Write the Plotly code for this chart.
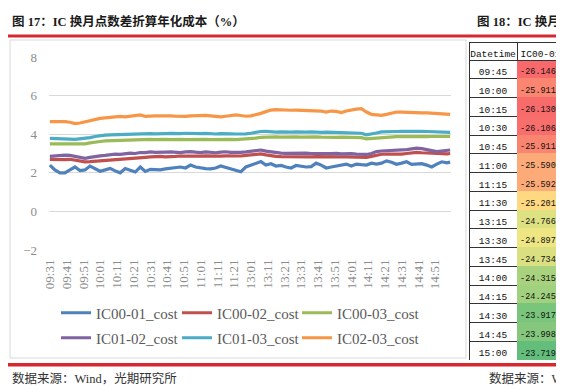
import plotly.graph_objects as go

W, H = 564, 390
OFF = 8                     # page body margin of the html page
FW, FH = W - OFF, H - OFF   # figure size so that it ends at the window edge

# ---- category axis: one category per trading minute ----
minutes = [f"{h:02d}:{m:02d}" for h in range(9, 12) for m in range(60)
           if "09:31" <= f"{h:02d}:{m:02d}" <= "11:30"] + \
          [f"{h:02d}:{m:02d}" for h in range(13, 16) for m in range(60)
           if "13:01" <= f"{h:02d}:{m:02d}" <= "15:00"]
tick_labels = minutes[0:240:10]
sample_times = minutes[0:240:3] + [minutes[-1]]

ic00_01 = [2.40, 2.15, 2.00, 2.00, 2.15, 2.30, 2.12, 2.15, 2.35, 2.20,
           2.08, 2.15, 2.23, 2.10, 2.00, 2.22, 2.15, 2.04, 2.30, 2.07,
           2.18, 2.18, 2.15, 2.20, 2.22, 2.28, 2.30, 2.25, 2.40, 2.30,
           2.25, 2.22, 2.20, 2.25, 2.35, 2.28, 2.18, 2.10, 2.05, 2.30,
           2.38, 2.48, 2.58, 2.40, 2.47, 2.35, 2.38, 2.30, 2.25, 2.38,
           2.35, 2.30, 2.32, 2.50, 2.40, 2.25, 2.30, 2.35, 2.40, 2.45,
           2.35, 2.45, 2.42, 2.40, 2.50, 2.45, 2.50, 2.62, 2.55, 2.44,
           2.50, 2.57, 2.44, 2.45, 2.47, 2.40, 2.30, 2.45, 2.57, 2.52, 2.55]
ic00_02 = [2.69, 2.68, 2.65, 2.68, 2.70, 2.66, 2.60, 2.57, 2.58, 2.60,
           2.65, 2.66, 2.70, 2.70, 2.72, 2.75, 2.76, 2.78, 2.80, 2.80,
           2.82, 2.84, 2.85, 2.83, 2.86, 2.85, 2.87, 2.86, 2.88, 2.87,
           2.86, 2.88, 2.87, 2.85, 2.86, 2.88, 2.87, 2.86, 2.87, 2.90,
           2.93, 2.97, 2.98, 2.93, 2.88, 2.85, 2.84, 2.83, 2.84, 2.83,
           2.84, 2.83, 2.82, 2.84, 2.83, 2.82, 2.83, 2.84, 2.82, 2.83,
           2.82, 2.83, 2.82, 2.80, 2.85, 2.92, 2.96, 2.97, 2.96, 2.98,
           2.97, 3.00, 3.03, 3.06, 3.04, 3.02, 3.00, 2.98, 2.97, 2.98, 3.00]
ic00_03 = [3.50, 3.50, 3.48, 3.47, 3.47, 3.46, 3.47, 3.50, 3.55, 3.60,
           3.62, 3.65, 3.66, 3.68, 3.70, 3.70, 3.71, 3.72, 3.73, 3.72,
           3.73, 3.72, 3.74, 3.73, 3.72, 3.74, 3.73, 3.72, 3.73, 3.75,
           3.74, 3.73, 3.72, 3.73, 3.75, 3.74, 3.73, 3.72, 3.73, 3.74,
           3.77, 3.80, 3.84, 3.86, 3.85, 3.86, 3.85, 3.84, 3.85, 3.86,
           3.85, 3.84, 3.85, 3.86, 3.85, 3.84, 3.83, 3.84, 3.85, 3.84,
           3.85, 3.84, 3.82, 3.76, 3.78, 3.82, 3.85, 3.87, 3.88, 3.87,
           3.88, 3.87, 3.88, 3.89, 3.88, 3.87, 3.88, 3.89, 3.88, 3.87, 3.88]
ic01_02 = [2.85, 2.88, 2.90, 2.92, 2.90, 2.85, 2.78, 2.75, 2.80, 2.85,
           2.88, 2.90, 2.95, 2.97, 2.95, 3.00, 3.02, 3.00, 3.05, 3.05,
           3.08, 3.06, 3.05, 3.07, 3.08, 3.06, 3.05, 3.08, 3.10, 3.07,
           3.05, 3.08, 3.06, 3.04, 3.07, 3.09, 3.06, 3.05, 3.06, 3.08,
           3.12, 3.16, 3.18, 3.12, 3.08, 3.04, 3.02, 3.01, 3.02, 3.00,
           3.01, 3.02, 3.00, 3.01, 3.03, 3.00, 2.99, 3.01, 2.98, 3.00,
           2.99, 2.97, 2.95, 2.95, 3.00, 3.10, 3.13, 3.14, 3.15, 3.18,
           3.20, 3.20, 3.24, 3.28, 3.25, 3.22, 3.15, 3.10, 3.12, 3.16, 3.18]
ic01_03 = [3.78, 3.78, 3.76, 3.75, 3.74, 3.73, 3.75, 3.78, 3.82, 3.88,
           3.93, 3.95, 3.97, 3.98, 4.00, 4.01, 4.02, 4.00, 4.03, 4.02,
           4.03, 4.02, 4.01, 4.03, 4.04, 4.02, 4.03, 4.05, 4.03, 4.02,
           4.03, 4.04, 4.02, 4.01, 4.03, 4.04, 4.02, 4.01, 4.00, 4.02,
           4.05, 4.10, 4.14, 4.15, 4.12, 4.11, 4.12, 4.10, 4.11, 4.12,
           4.10, 4.11, 4.12, 4.10, 4.09, 4.11, 4.10, 4.09, 4.10, 4.11,
           4.10, 4.08, 4.05, 3.97, 4.00, 4.06, 4.12, 4.14, 4.15, 4.14,
           4.15, 4.16, 4.15, 4.14, 4.15, 4.14, 4.13, 4.14, 4.12, 4.10, 4.09]
ic02_03 = [4.65, 4.66, 4.67, 4.65, 4.62, 4.55, 4.58, 4.65, 4.72, 4.78,
           4.82, 4.85, 4.88, 4.93, 4.92, 4.90, 4.92, 4.95, 5.00, 4.92,
           4.95, 4.95, 4.95, 4.96, 4.95, 4.93, 4.92, 4.92, 4.95, 4.97,
           5.00, 4.98, 4.95, 4.92, 4.90, 4.93, 4.97, 5.00, 4.97, 4.93,
           4.95, 5.00, 5.08, 5.17, 5.25, 5.27, 5.25, 5.25, 5.24, 5.25,
           5.24, 5.25, 5.23, 5.22, 5.20, 5.15, 5.20, 5.18, 5.12, 5.20,
           5.27, 5.30, 5.32, 5.15, 5.03, 5.00, 4.98, 5.03, 5.10, 5.15,
           5.14, 5.12, 5.10, 5.12, 5.10, 5.10, 5.08, 5.05, 5.05, 5.05, 5.03]

series_names = ["IC00-01_cost", "IC00-02_cost", "IC00-03_cost",
                "IC01-02_cost", "IC01-03_cost", "IC02-03_cost"]
series_values = [ic00_01, ic00_02, ic00_03, ic01_02, ic01_03, ic02_03]
series_colors = ["#4F81BD", "#C0504D", "#9BBB59", "#8064A2", "#4BACC6", "#F79646"]

# ---- table (figure 18) ----
table_times = ["09:45", "10:00", "10:15", "10:30", "10:45", "11:00", "11:15", "11:30",
               "13:15", "13:30", "13:45", "14:00", "14:15", "14:30", "14:45", "15:00"]
table_ic00_01 = [-26.1467, -25.9111, -26.1308, -26.1067, -25.9116, -25.5903, -25.5926, -25.2017,
                 -24.7665, -24.8971, -24.7343, -24.3154, -24.2453, -23.9172, -23.9987, -23.7193]


def scale_color(v, vals):
    s = sorted(vals)
    lo, hi = s[0], s[-1]
    n = len(s)
    mid = (s[n // 2 - 1] + s[n // 2]) / 2 if n % 2 == 0 else s[n // 2]
    red, yel, grn = (248, 105, 107), (255, 235, 132), (99, 190, 123)
    if v <= mid:
        t = (v - lo) / (mid - lo)
        a, b = red, yel
    else:
        t = (v - mid) / (hi - mid)
        a, b = yel, grn
    c = [round(a[i] + (b[i] - a[i]) * t) for i in range(3)]
    return f"rgb({c[0]},{c[1]},{c[2]})"


cell_colors = [scale_color(v, table_ic00_01) for v in table_ic00_01]

SERIF = "Liberation Serif, Noto Sans CJK SC, serif"
CJK = "Liberation Serif, Noto Sans CJK SC, sans-serif"
MONO = "Liberation Mono, DejaVu Sans Mono, monospace"


def px_x(p):
    return (p - OFF) / FW


def px_y(p):
    return 1 - (p - OFF) / FH


legend_ids = ["legend", "legend2", "legend3", "legend4", "legend5", "legend6"]
legend_cols = [62, 183, 303]     # where each legend line starts (page px)
legend_rows = [313, 338]

fig = go.Figure()
for i, (name, vals, col) in enumerate(zip(series_names, series_values, series_colors)):
    fig.add_trace(go.Scatter(
        x=sample_times, y=vals, mode="lines", name=name,
        line=dict(color=col, width=3.2),
        legend=legend_ids[i],
    ))

fig.add_trace(go.Table(
    domain=dict(x=[px_x(469), 1.0], y=[px_y(360), px_y(42)]),
    columnwidth=[48, 47],
    header=dict(values=["Datetime", "IC00-01"], fill_color="white",
                line=dict(color="#333333", width=1), align=["center", "center"],
                font=dict(family=MONO, size=9.5, color="#111111"), height=18),
    cells=dict(values=[table_times, [f"{v:.4f}" for v in table_ic00_01]],
               fill_color=[["white"] * len(table_times), cell_colors],
               line=dict(color=["#333333", cell_colors], width=1),
               align=["center", "center"],
               font=dict(family=MONO, size=[9.5, 8.5], color="#111111"), height=18.75),
))

shapes = [
    # chart frame
    dict(type="rect", xref="paper", yref="paper", x0=px_x(10), x1=px_x(466),
         y0=px_y(358), y1=px_y(40), line=dict(color="#d9d9d9", width=1), layer="below"),
    # red rules
    dict(type="rect", xref="paper", yref="paper", x0=px_x(8), x1=1.0,
         y0=px_y(37.5), y1=px_y(34.5), fillcolor="#D7282F", line=dict(width=0)),
    dict(type="rect", xref="paper", yref="paper", x0=px_x(8), x1=1.0,
         y0=px_y(366.5), y1=px_y(363), fillcolor="#D7282F", line=dict(width=0)),
]

annotations = [
    dict(text="<b>图 17：IC 换月点数差折算年化成本（%）</b>", x=px_x(10), y=px_y(22),
         xref="paper", yref="paper", xanchor="left", yanchor="middle", showarrow=False,
         font=dict(family=CJK, size=12.5, color="#1a1a1a")),
    dict(text="<b>图 18：IC 换月点数差折算年化成本（%）</b>", x=px_x(475), y=px_y(22),
         xref="paper", yref="paper", xanchor="left", yanchor="middle", showarrow=False,
         font=dict(family=CJK, size=12.5, color="#1a1a1a")),
    dict(text="数据来源：Wind，光期研究所", x=px_x(10), y=px_y(378),
         xref="paper", yref="paper", xanchor="left", yanchor="middle", showarrow=False,
         font=dict(family=CJK, size=12.5, color="#333333")),
    dict(text="数据来源：Wind，光期研究所", x=px_x(487), y=px_y(378),
         xref="paper", yref="paper", xanchor="left", yanchor="middle", showarrow=False,
         font=dict(family=CJK, size=12.5, color="#333333")),
]

legends = {}
for i, lid in enumerate(legend_ids):
    legends[lid] = dict(
        orientation="h", xanchor="left", yanchor="middle",
        x=px_x(legend_cols[i % 3] - 6), y=px_y(legend_rows[i // 3]),
        bgcolor="rgba(0,0,0,0)", borderwidth=0,
        font=dict(family=SERIF, size=15, color="#595959"),
        itemwidth=30,
    )

fig.update_layout(
    width=FW, height=FH,
    margin=dict(l=0, r=0, t=0, b=0, pad=0, autoexpand=False),
    paper_bgcolor="white", plot_bgcolor="white",
    showlegend=True,
    shapes=shapes, annotations=annotations,
    xaxis=dict(domain=[px_x(49), px_x(451)], type="category",
               categoryorder="array", categoryarray=minutes,
               range=[-0.5, len(minutes) - 0.5],
               tickmode="array", tickvals=tick_labels, ticktext=tick_labels,
               tickangle=-90, showgrid=False, showline=False, zeroline=False,
               ticks="", ticklabelstandoff=6, automargin=False,
               tickfont=dict(family=SERIF, size=13, color="#8c8c8c")),
    yaxis=dict(domain=[px_y(250), px_y(57)], range=[-2, 8],
               tickmode="array", tickvals=[-2, 0, 2, 4, 6, 8],
               showgrid=True, gridcolor="#d9d9d9", gridwidth=1,
               zeroline=False, showline=False, ticks="", ticklabelstandoff=11,
               automargin=False,
               tickfont=dict(family=SERIF, size=13, color="#8c8c8c")),
    **legends,
)

fig.write_html("out.html")
